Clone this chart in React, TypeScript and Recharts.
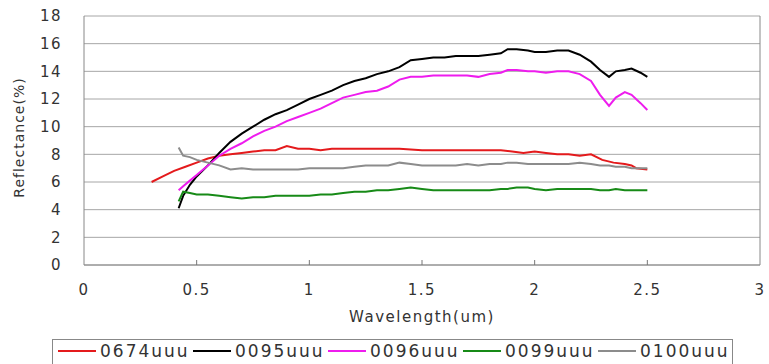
import { CartesianGrid, Line, LineChart, ReferenceLine, XAxis, YAxis } from "recharts";

// wavelength grid (um) shared by the four detector series
const waves = [
  0.42, 0.44, 0.47, 0.5, 0.55, 0.6, 0.65, 0.7, 0.75, 0.8,
  0.85, 0.9, 0.95, 1.0, 1.05, 1.1, 1.15, 1.2, 1.25, 1.3,
  1.35, 1.4, 1.45, 1.5, 1.55, 1.6, 1.65, 1.7, 1.75, 1.8,
  1.85, 1.88, 1.92, 1.97, 2.0, 2.05, 2.1, 2.15, 2.2, 2.25,
  2.29, 2.33, 2.36, 2.4, 2.43, 2.47, 2.5,
];

const s0095 = [
  4.1, 5.0, 5.8, 6.4, 7.2, 8.1, 8.9, 9.5, 10.0, 10.5,
  10.9, 11.2, 11.6, 12.0, 12.3, 12.6, 13.0, 13.3, 13.5, 13.8,
  14.0, 14.3, 14.8, 14.9, 15.0, 15.0, 15.1, 15.1, 15.1, 15.2,
  15.3, 15.6, 15.6, 15.5, 15.4, 15.4, 15.5, 15.5, 15.2, 14.7,
  14.1, 13.6, 14.0, 14.1, 14.2, 13.9, 13.6,
];

const s0096 = [
  5.4, 5.7, 6.1, 6.5, 7.2, 7.9, 8.4, 8.8, 9.3, 9.7,
  10.0, 10.4, 10.7, 11.0, 11.3, 11.7, 12.1, 12.3, 12.5, 12.6,
  12.9, 13.4, 13.6, 13.6, 13.7, 13.7, 13.7, 13.7, 13.6, 13.8,
  13.9, 14.1, 14.1, 14.0, 14.0, 13.9, 14.0, 14.0, 13.8, 13.3,
  12.3, 11.5, 12.1, 12.5, 12.3, 11.7, 11.2,
];

const s0099 = [
  4.6, 5.3, 5.2, 5.1, 5.1, 5.0, 4.9, 4.8, 4.9, 4.9,
  5.0, 5.0, 5.0, 5.0, 5.1, 5.1, 5.2, 5.3, 5.3, 5.4,
  5.4, 5.5, 5.6, 5.5, 5.4, 5.4, 5.4, 5.4, 5.4, 5.4,
  5.5, 5.5, 5.6, 5.6, 5.5, 5.4, 5.5, 5.5, 5.5, 5.5,
  5.4, 5.4, 5.5, 5.4, 5.4, 5.4, 5.4,
];

const s0100 = [
  8.5, 7.9, 7.8, 7.6, 7.4, 7.2, 6.9, 7.0, 6.9, 6.9,
  6.9, 6.9, 6.9, 7.0, 7.0, 7.0, 7.0, 7.1, 7.2, 7.2,
  7.2, 7.4, 7.3, 7.2, 7.2, 7.2, 7.2, 7.3, 7.2, 7.3,
  7.3, 7.4, 7.4, 7.3, 7.3, 7.3, 7.3, 7.3, 7.4, 7.3,
  7.2, 7.2, 7.1, 7.1, 7.0, 7.0, 7.0,
];

// 0674uuu covers a wider range
const waves0674 = [
  0.3, 0.35, 0.4, 0.45, 0.5, 0.55, 0.6, 0.65, 0.7, 0.75,
  0.8, 0.85, 0.9, 0.95, 1.0, 1.05, 1.1, 1.2, 1.3, 1.4,
  1.5, 1.6, 1.7, 1.8, 1.85, 1.9, 1.95, 2.0, 2.05, 2.1,
  2.15, 2.2, 2.25, 2.3, 2.35, 2.4, 2.43, 2.45, 2.5,
];
const s0674 = [
  6.0, 6.4, 6.8, 7.1, 7.4, 7.7, 7.9, 8.0, 8.1, 8.2,
  8.3, 8.3, 8.6, 8.4, 8.4, 8.3, 8.4, 8.4, 8.4, 8.4,
  8.3, 8.3, 8.3, 8.3, 8.3, 8.2, 8.1, 8.2, 8.1, 8.0,
  8.0, 7.9, 8.0, 7.6, 7.4, 7.3, 7.2, 7.0, 6.9,
];

const xTicks = [0, 0.5, 1, 1.5, 2, 2.5, 3];
const yTicks = [0, 2, 4, 6, 8, 10, 12, 14, 16, 18];

const toPoints = (xs: number[], ys: number[]) => xs.map((x, i) => ({ x, y: ys[i] }));

const series = [
  { name: "0674uuu", color: "#e41a1c", data: toPoints(waves0674, s0674) },
  { name: "0095uuu", color: "#000000", data: toPoints(waves, s0095) },
  { name: "0096uuu", color: "#ee1cee", data: toPoints(waves, s0096) },
  { name: "0099uuu", color: "#178a17", data: toPoints(waves, s0099) },
  { name: "0100uuu", color: "#8c8c8c", data: toPoints(waves, s0100) },
];

const FONT = "'DejaVu Sans', Arial, sans-serif";

function XTick(props: any) {
  const { x, y, payload } = props;
  return (
    <g>
      {payload.value !== 0 && payload.value !== 3 && (
        <line x1={x} x2={x} y1={y - 5} y2={y} stroke="#777" />
      )}
      <text
        x={x}
        y={y + 30}
        textAnchor="middle"
        fontSize={15}
        letterSpacing={1.5}
        fill="#333"
        fontFamily={FONT}
      >
        {payload.value}
      </text>
    </g>
  );
}

function YTitle(props: any) {
  const { viewBox } = props;
  const cy = viewBox.y + viewBox.height / 2 - 3;
  const cx = 24;
  return (
    <text
      x={cx}
      y={cy}
      transform={`rotate(-90 ${cx} ${cy})`}
      textAnchor="middle"
      fontSize={14}
      letterSpacing={1}
      fill="#333"
      fontFamily={FONT}
    >
      Reflectance(%)
    </text>
  );
}

export default function App() {
  return (
    <div style={{ position: "absolute", left: 0, top: 0, width: 769, height: 364, background: "#fff", fontFamily: FONT }}>
      <LineChart width={769} height={364} margin={{ top: 16, right: 9, left: 0, bottom: 42 }}>
        <CartesianGrid vertical={false} stroke="#a6a6a6" />
        <XAxis
          type="number"
          dataKey="x"
          domain={[0, 3]}
          ticks={xTicks}
          tickSize={0}
          tickMargin={0}
          tickLine={false}
          tick={<XTick />}
          stroke="#888"
          height={57}
          label={{
            value: "Wavelength(um)",
            position: "insideBottom",
            offset: 0,
            fontSize: 15,
            letterSpacing: 1.5,
            fill: "#333",
            fontFamily: FONT,
          }}
          allowDuplicatedCategory={false}
        />
        <YAxis
          type="number"
          domain={[0, 18]}
          ticks={yTicks}
          width={84}
          tickLine={false}
          tickMargin={16}
          stroke="#888"
          tick={{ fontSize: 15, fill: "#333", letterSpacing: 1.5, fontFamily: FONT }}
          label={{ content: (p: any) => <YTitle {...p} /> }}
        />
        <ReferenceLine x={3} stroke="#888" />
        {series.map((s) => (
          <Line
            key={s.name}
            data={s.data}
            dataKey="y"
            name={s.name}
            stroke={s.color}
            strokeWidth={2}
            dot={false}
            type="linear"
            isAnimationActive={false}
          />
        ))}
      </LineChart>
      <div
        style={{
          position: "absolute",
          left: 52,
          top: 339,
          width: 681,
          height: 25,
          border: "1px solid #888",
          borderBottom: "none",
          boxSizing: "border-box",
        }}
      >
        {series.map((s, i) => (
          <div
            key={s.name}
            style={{
              position: "absolute",
              left: 5 + i * 135,
              top: 0,
              height: 22,
              display: "flex",
              alignItems: "center",
              fontSize: 17,
              letterSpacing: 2,
              color: "#333",
              whiteSpace: "nowrap",
            }}
          >
            <span style={{ display: "inline-block", width: 38, height: 2, background: s.color, marginRight: 4 }} />
            <span>{s.name}</span>
          </div>
        ))}
      </div>
    </div>
  );
}
